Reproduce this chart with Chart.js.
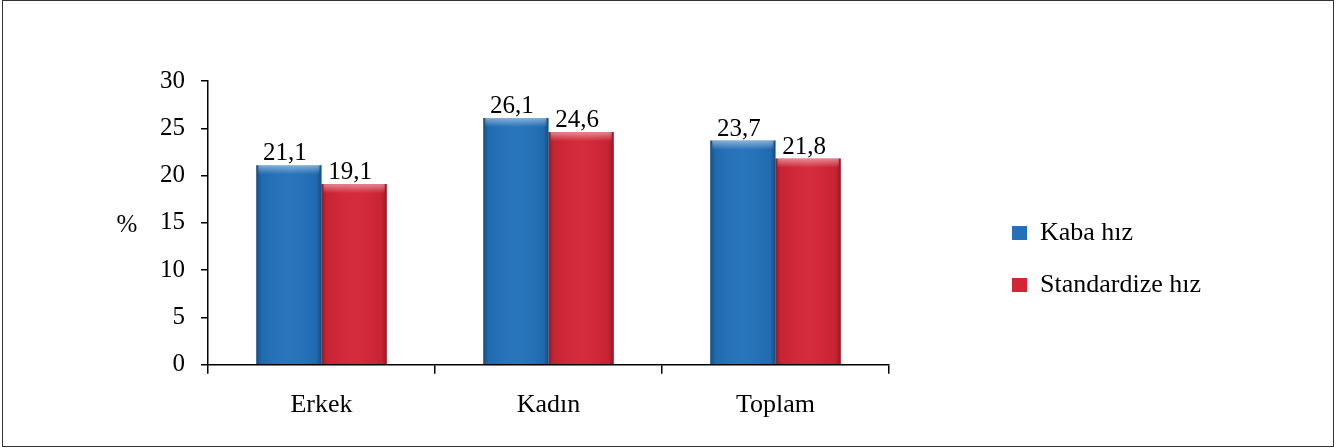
<!DOCTYPE html>
<html>
<head>
<meta charset="utf-8">
<script src="https://cdn.jsdelivr.net/npm/chart.js@4/dist/chart.umd.min.js"></script>
<style>
  body { margin: 0; background: #fff; }
  .wrap { position: relative; width: 1342px; height: 448px; }
  .wrap canvas { position: absolute; left: 0; top: 0; }
  .frame { position: absolute; left: 2px; top: 0; width: 1332px; height: 447px; box-sizing: border-box; border: 1.5px solid #333; pointer-events: none; }
</style>
</head>
<body>
<div class="wrap">
  <canvas id="hizChart" width="1342" height="448"></canvas>
  <div class="frame"></div>
</div>
<script>
// Data
const categories = ['Erkek', 'Kadın', 'Toplam'];
const kabaHiz = [21.1, 26.1, 23.7];
const standardizeHiz = [19.1, 24.6, 21.8];
const seriesNames = ['Kaba hız', 'Standardize hız'];
const yTicks = [0, 5, 10, 15, 20, 25, 30];

const fontFamily = '"Liberation Serif", "Times New Roman", serif';

// Shading + value labels on top of the bars
const barDecor = {
  id: 'barDecor',
  afterDatasetsDraw(chart) {
    const ctx = chart.ctx;
    chart.data.datasets.forEach((ds, di) => {
      const meta = chart.getDatasetMeta(di);
      meta.data.forEach((bar, i) => {
        const left = bar.x - bar.width / 2;
        const right = bar.x + bar.width / 2;
        const top = bar.y;
        const h = bar.base - bar.y;

        ctx.save();
        // side shading
        const g = ctx.createLinearGradient(left, 0, right, 0);
        g.addColorStop(0, 'rgba(0,0,0,0.3)');
        g.addColorStop(0.08, 'rgba(0,0,0,0.06)');
        g.addColorStop(0.5, 'rgba(255,255,255,0.03)');
        g.addColorStop(0.92, 'rgba(0,0,0,0.06)');
        g.addColorStop(1, 'rgba(0,0,0,0.32)');
        ctx.fillStyle = g;
        ctx.fillRect(left, top, bar.width, h);
        // top highlight
        const t = ctx.createLinearGradient(0, top, 0, top + 9);
        t.addColorStop(0, 'rgba(255,255,255,0.45)');
        t.addColorStop(1, 'rgba(255,255,255,0)');
        ctx.fillStyle = t;
        ctx.fillRect(left + 2, top, bar.width - 4, 9);

        // value label
        ctx.fillStyle = '#000';
        ctx.font = '25px ' + fontFamily;
        ctx.textAlign = 'center';
        ctx.textBaseline = 'alphabetic';
        ctx.fillText(String(ds.data[i]).replace('.', ','), bar.x - 4, top - 5);
        ctx.restore();
      });
    });
  },
  afterDraw(chart) {
    const ctx = chart.ctx;
    const area = chart.chartArea;
    ctx.save();
    ctx.fillStyle = '#000';
    ctx.font = '25px ' + fontFamily;
    ctx.textAlign = 'center';
    ctx.textBaseline = 'middle';
    ctx.fillText('%', 127, (area.top + area.bottom) / 2 + 3);
    ctx.restore();
  }
};

document.addEventListener('DOMContentLoaded', () => {
  const ctx = document.getElementById('hizChart').getContext('2d');
  new Chart(ctx, {
    type: 'bar',
    data: {
      labels: categories,
      datasets: [{
        label: seriesNames[0],
        data: kabaHiz,
        backgroundColor: '#2271ba',
        borderColor: '#17518a',
        borderWidth: 0,
        categoryPercentage: 0.575,
        barPercentage: 1
      }, {
        label: seriesNames[1],
        data: standardizeHiz,
        backgroundColor: '#d42536',
        borderColor: '#8f1a24',
        borderWidth: 0,
        categoryPercentage: 0.575,
        barPercentage: 1
      }]
    },
    options: {
      responsive: false,
      animation: false,
      layout: { padding: { left: 0, top: 81, right: 131, bottom: 11 } },
      plugins: {
        tooltip: { enabled: false },
        legend: {
          position: 'right',
          align: 'center',
          maxWidth: 280,
          labels: {
            boxWidth: 15,
            boxHeight: 14,
            padding: 26,
            color: '#000',
            font: { family: fontFamily, size: 26 }
          }
        }
      },
      scales: {
        x: {
          grid: { drawOnChartArea: false, drawTicks: true, tickLength: 9, color: '#000', lineWidth: 1.5 },
          border: { display: true, color: '#000', width: 1.5 },
          ticks: { color: '#000', padding: 16, font: { family: fontFamily, size: 26 } }
        },
        y: {
          min: 0,
          max: 30,
          afterBuildTicks: (scale) => { scale.ticks = yTicks.map(v => ({ value: v })); },
          afterFit: (scale) => { scale.width = 208; },
          grid: { drawOnChartArea: false, drawTicks: true, tickLength: 7, color: '#000', lineWidth: 1.5 },
          border: { display: true, color: '#000', width: 1.5 },
          ticks: { color: '#000', padding: 16, font: { family: fontFamily, size: 25 } }
        },
        gap: {
          type: 'linear',
          position: 'right',
          display: true,
          grid: { display: false },
          border: { display: false },
          ticks: { display: false },
          afterFit: (scale) => { scale.width = 97; }
        }
      }
    },
    plugins: [barDecor]
  });
});
</script>
</body>
</html>
